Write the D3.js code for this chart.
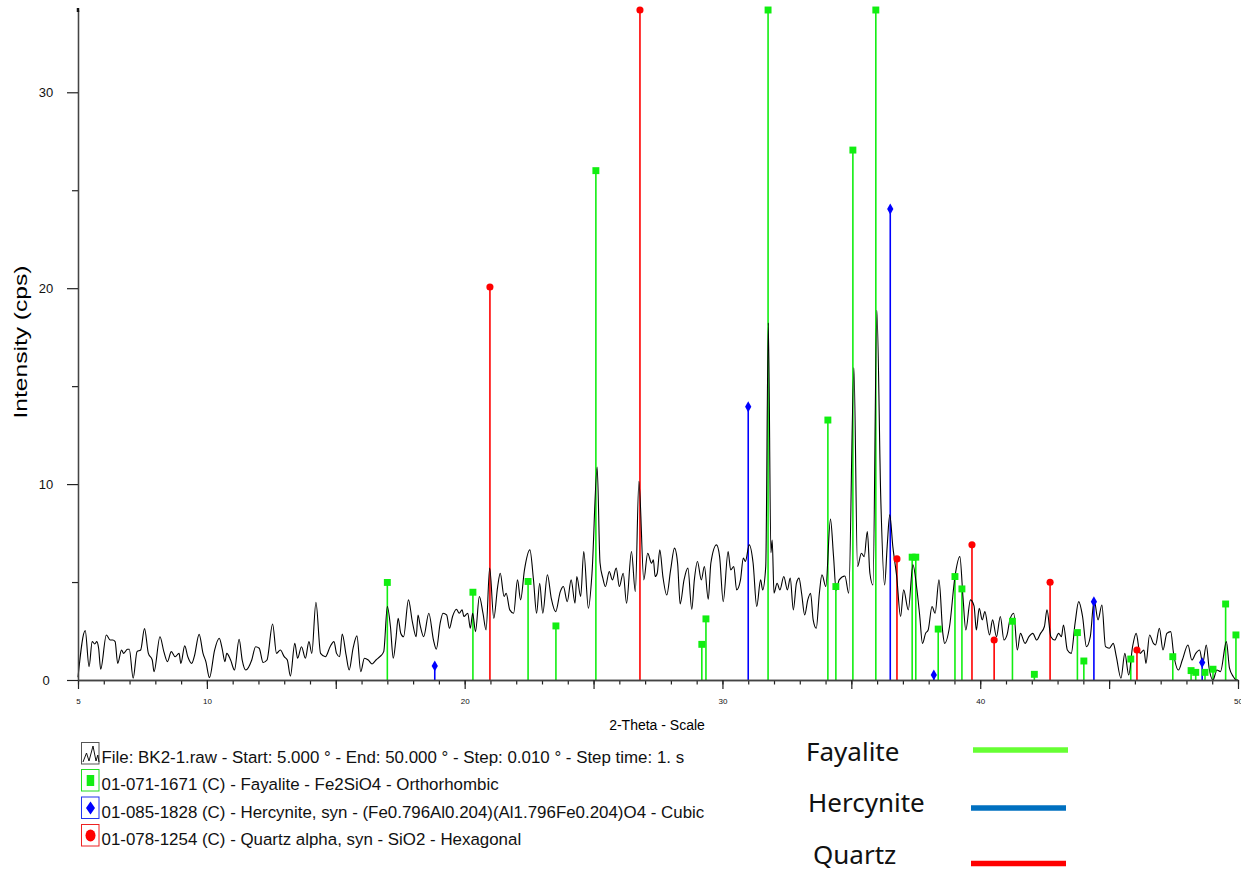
<!DOCTYPE html>
<html>
<head>
<meta charset="utf-8">
<script src="https://cdn.jsdelivr.net/npm/d3@7"></script>
<style>
  body { margin: 0; background: #fff; }
  svg { display: block; font-family: "Liberation Sans", Arial, sans-serif; }
</style>
</head>
<body>
<div id="chart"></div>
<script>
var patternX = [5.00,5.28,5.43,5.55,5.65,5.73,5.80,5.88,6.10,6.25,6.35,6.44,6.54,6.69,6.77,6.92,6.99,7.14,7.29,7.43,
  7.58,7.73,7.88,7.95,8.18,8.33,8.47,8.62,8.77,8.92,8.99,9.14,9.26,9.41,9.51,9.70,9.85,9.96,10.10,10.30,
  10.48,10.59,10.70,10.77,10.92,11.07,11.25,11.37,11.51,11.74,11.89,12.03,12.18,12.33,12.55,12.70,12.85,13.00,13.12,13.24,
  13.41,13.52,13.67,13.82,13.96,14.07,14.23,14.41,14.60,14.78,14.93,15.03,15.15,15.25,15.40,15.52,15.67,15.82,15.97,16.11,
  16.26,16.41,16.56,16.71,16.86,17.00,17.12,17.23,17.33,17.42,17.52,17.63,17.82,17.97,18.12,18.19,18.27,18.41,18.61,18.79,
  18.90,19.05,19.16,19.30,19.41,19.53,19.68,19.79,19.90,19.97,20.12,20.22,20.31,20.42,20.57,20.71,20.83,20.97,21.13,21.28,
  21.38,21.53,21.61,21.75,21.90,22.05,22.17,22.32,22.53,22.67,22.79,22.91,23.03,23.21,23.36,23.53,23.71,23.83,23.98,24.13,
  24.28,24.35,24.50,24.62,24.80,24.94,25.14,25.25,25.36,25.46,25.61,25.73,25.88,26.00,26.15,26.28,26.47,26.62,26.76,26.95,
  27.10,27.25,27.32,27.39,27.47,27.57,27.69,27.84,27.99,28.14,28.26,28.36,28.51,28.66,28.81,28.91,29.03,29.18,29.30,29.45,
  29.55,29.77,29.89,30.03,30.22,30.32,30.44,30.55,30.70,30.81,30.89,31.04,31.19,31.33,31.48,31.56,31.68,31.78,31.88,31.93,
  32.00,32.12,32.23,32.38,32.52,32.63,32.75,32.87,32.97,33.07,33.19,33.31,33.42,33.52,33.64,33.76,33.86,34.01,34.19,34.31,
  34.41,34.53,34.75,34.90,35.10,35.24,35.39,35.50,35.62,35.72,35.84,35.99,36.14,36.29,36.39,36.49,36.61,36.76,36.91,37.03,
  37.21,37.39,37.53,37.65,37.76,37.88,37.98,38.13,38.25,38.40,38.55,38.62,38.81,39.02,39.21,39.33,39.44,39.62,39.76,39.85,
  39.96,40.08,40.18,40.36,40.48,40.63,40.78,40.92,41.04,41.15,41.30,41.44,41.56,41.74,41.89,42.04,42.19,42.34,42.49,42.59,
  42.74,42.89,43.04,43.15,43.23,43.38,43.53,43.68,43.82,43.97,44.12,44.27,44.42,44.57,44.72,44.86,45.01,45.16,45.28,45.46,
  45.61,45.76,45.91,46.05,46.20,46.35,46.43,46.57,46.72,46.80,46.95,47.09,47.24,47.39,47.50,47.69,47.84,48.06,48.21,48.36,
  48.51,48.63,48.77,48.88,49.03,49.18,49.32,49.55,49.67,49.82,49.92,50.00];
var patternY = [0.14,2.52,0.68,1.96,1.84,1.96,1.62,0.55,2.30,2.04,2.04,1.96,0.85,1.53,1.36,1.57,1.57,0.09,1.45,1.53,
  2.62,1.36,1.02,0.43,2.21,1.45,0.94,1.45,1.19,1.36,0.85,1.74,1.19,0.85,1.19,2.33,1.36,0.94,0.12,1.53,
  2.13,1.62,0.94,1.36,1.02,0.51,2.08,1.02,0.51,1.02,1.70,1.62,0.89,1.02,2.86,1.36,1.53,1.19,1.02,0.20,
  1.87,1.11,1.70,1.11,1.96,1.36,3.97,1.36,1.19,1.70,1.96,1.36,1.19,2.35,1.28,0.51,1.62,2.25,0.43,1.11,
  1.02,0.82,1.02,1.19,1.45,3.75,2.73,1.11,2.04,3.15,2.39,2.21,4.09,2.98,2.21,3.32,2.81,2.21,3.41,2.04,
  1.57,2.90,3.41,3.32,2.64,3.24,3.61,3.41,3.58,3.24,3.41,2.64,3.41,2.47,4.26,3.41,2.56,5.71,3.15,4.77,
  5.45,4.26,4.43,3.58,3.41,5.11,4.09,5.62,6.64,5.11,3.41,4.94,3.41,5.37,4.17,3.49,4.51,4.77,4.00,5.11,
  3.92,5.28,4.26,6.56,3.66,5.45,10.87,6.00,5.20,4.77,5.54,5.11,5.71,4.77,5.45,3.92,6.56,4.51,10.14,5.11,
  6.47,5.96,6.13,5.28,5.45,6.64,5.28,4.34,5.62,6.73,5.96,3.88,5.11,5.71,3.61,5.11,6.05,5.11,5.79,4.12,
  5.96,6.90,6.30,4.00,6.56,5.62,5.79,4.60,5.11,6.22,6.05,6.90,5.96,3.75,5.11,4.60,5.80,18.23,6.50,7.15,
  4.43,4.94,4.60,5.28,4.60,5.20,3.58,4.94,5.20,4.43,3.32,4.09,4.43,3.07,2.64,4.43,5.37,4.77,8.21,6.30,
  4.60,5.11,5.31,4.43,15.93,5.79,6.47,6.30,7.58,5.45,4.85,18.87,9.37,4.85,6.81,8.43,6.81,5.28,3.24,4.60,
  3.58,5.88,4.77,3.32,1.87,2.38,2.55,3.75,3.41,5.11,2.38,1.87,2.73,5.28,6.30,4.26,2.55,4.09,3.78,2.55,
  3.66,3.07,3.49,2.30,3.07,2.21,3.24,2.04,2.30,3.07,3.41,1.53,2.38,1.87,2.21,2.38,2.04,2.38,2.73,3.58,
  2.21,2.04,2.38,2.21,2.81,1.53,1.36,2.90,4.00,3.24,1.70,2.21,4.09,3.07,3.83,1.70,1.62,1.87,1.19,0.09,
  1.36,0.26,1.70,2.38,1.36,1.53,0.85,2.30,1.87,1.79,2.64,1.53,2.38,2.47,1.36,0.51,1.02,1.79,1.02,1.36,
  1.53,0.85,1.79,0.60,0.00,0.51,0.43,1.96,0.60,0.17,0.00,0.00];

// REFERENCE PATTERNS (stick positions and heights; the tallest run off the top)
var fayaliteX = [17.00,20.32,22.46,23.54,25.09,29.20,29.36,31.77,34.09,34.40,35.06,35.95,37.36,37.50,38.37,
  39.02,39.29,41.25,42.10,43.77,44.02,45.84,47.47,48.18,48.36,48.72,49.03,49.52,49.92];
var fayaliteY = [4.98,4.48,5.03,2.76,26.0,1.82,3.12,100,13.27,4.77,27.05,83,6.27,6.27,2.60,
  5.28,4.65,3.00,0.29,2.42,0.97,1.07,1.19,0.48,0.39,0.39,0.55,3.88,2.30];
var hercyniteX = [18.84,31.00,36.51,38.20,44.41,48.61];
var hercyniteY = [0.72,13.95,24.04,0.26,4.00,0.89];
var quartzX = [20.98,26.80,36.77,39.68,40.54,42.71,46.08];
var quartzY = [20.06,100,6.18,6.90,2.04,4.99,1.53];

var xTickLabels = [5, 10, 20, 30, 40, 50];
var yTickLabels = [0, 10, 20, 30];

var legendTexts = [
  "File: BK2-1.raw - Start: 5.000 \u00b0 - End: 50.000 \u00b0 - Step: 0.010 \u00b0 - Step time: 1. s",
  "01-071-1671 (C) - Fayalite - Fe2SiO4 - Orthorhombic",
  "01-085-1828 (C) - Hercynite, syn - (Fe0.796Al0.204)(Al1.796Fe0.204)O4 - Cubic",
  "01-078-1254 (C) - Quartz alpha, syn - SiO2 - Hexagonal"];
var phaseNames = ["Fayalite", "Hercynite", "Quartz"];

var width = 1241, height = 873;
var plotLeft = 78, plotRight = 1238, plotTop = 10, plotBottom = 680;
var yMax = 34.2;

var svg = d3.select("#chart").append("svg")
  .attr("width", width)
  .attr("height", height);

var x = d3.scaleLinear().domain([5, 50]).range([plotLeft, plotRight]);
var y = d3.scaleLinear().domain([0, yMax]).range([plotBottom, plotTop]);

// layers, bottom to top
var stickLayer = svg.append("g");
var lineLayer = svg.append("g");
var markerLayer = svg.append("g");
var axisLayer = svg.append("g");

// X AXIS (minor ticks every degree, longer every 5)
axisLayer.append("g")
  .attr("transform", "translate(0," + plotBottom + ")")
  .call(d3.axisBottom(x).tickValues(d3.range(5, 51, 1)).tickSize(4.5).tickSizeOuter(0).tickFormat(""));
var xMajor = axisLayer.append("g")
  .attr("transform", "translate(0," + plotBottom + ")")
  .call(d3.axisBottom(x).tickValues(d3.range(5, 51, 5)).tickSize(9).tickSizeOuter(0)
    .tickFormat(function(d){ return xTickLabels.indexOf(d) >= 0 ? d : ""; }));
xMajor.selectAll("text")
  .attr("y", 18)
  .attr("font-size", "8px")
  .attr("fill", "#111");

// Y AXIS
axisLayer.append("g")
  .attr("transform", "translate(" + plotLeft + ",0)")
  .call(d3.axisLeft(y).tickValues([5, 15, 25]).tickSize(6).tickSizeOuter(0).tickFormat(""));
var yMajor = axisLayer.append("g")
  .attr("transform", "translate(" + plotLeft + ",0)")
  .call(d3.axisLeft(y).tickValues(yTickLabels).tickSize(11).tickSizeOuter(0));
yMajor.selectAll("text")
  .attr("x", -32)
  .attr("text-anchor", "middle")
  .attr("font-size", "13px")
  .attr("fill", "#111");

axisLayer.selectAll(".domain").attr("stroke", "#444").attr("stroke-width", 1.3);
axisLayer.selectAll(".tick line").attr("stroke", "#222").attr("stroke-width", 1.2);

// little end mark on top of the y axis
axisLayer.append("line")
  .attr("x1", plotLeft).attr("x2", plotLeft)
  .attr("y1", plotTop - 2).attr("y2", plotTop + 2)
  .attr("stroke", "#111").attr("stroke-width", 2.5);

// AXIS TITLES
svg.append("text")
  .text("2-Theta - Scale")
  .attr("x", 657)
  .attr("y", 730)
  .attr("text-anchor", "middle")
  .attr("font-size", "14px");

svg.append("text")
  .text("Intensity (cps)")
  .attr("transform", "translate(27,342) rotate(-90)")
  .attr("text-anchor", "middle")
  .attr("font-size", "19px")
  .attr("textLength", 153)
  .attr("lengthAdjust", "spacingAndGlyphs");

// STICKS
var phases = [
  {xs: fayaliteX, ys: fayaliteY, color: "#11ee11", marker: "square"},
  {xs: hercyniteX, ys: hercyniteY, color: "#0000ff", marker: "diamond"},
  {xs: quartzX, ys: quartzY, color: "#ff0000", marker: "circle"}
];

phases.forEach(function(p){
  var sticks = p.xs.map(function(v, i){ return [v, Math.min(p.ys[i], yMax)]; });

  stickLayer.selectAll(null)
    .data(sticks).enter()
    .append("line")
    .attr("x1", function(d){ return x(d[0]); })
    .attr("x2", function(d){ return x(d[0]); })
    .attr("y1", y(0))
    .attr("y2", function(d){ return y(d[1]); })
    .attr("stroke", p.color)
    .attr("stroke-width", 1.6);

  var sym = p.marker === "square" ? d3.symbolSquare
          : p.marker === "diamond" ? d3.symbolDiamond : d3.symbolCircle;
  var size = p.marker === "square" ? 48 : p.marker === "diamond" ? 34 : 40;

  markerLayer.selectAll(null)
    .data(sticks).enter()
    .append("path")
    .attr("d", d3.symbol().type(sym).size(size))
    .attr("transform", function(d){ return "translate(" + x(d[0]) + "," + y(d[1]) + ")"; })
    .attr("fill", p.color);
});

// PATTERN LINE
var pattern = patternX.map(function(v, i){ return [v, patternY[i]]; });
var line = d3.line()
  .x(function(d){ return x(d[0]); })
  .y(function(d){ return y(d[1]); })
  .curve(d3.curveMonotoneX);

lineLayer.append("path")
  .datum(pattern)
  .attr("d", line)
  .attr("fill", "none")
  .attr("stroke", "#000")
  .attr("stroke-width", 1.1);

// FILE / PDF LEGEND
var legend = svg.append("g");
var rowBase = [763, 790, 817.5, 845];
var iconColors = ["#555", "#22dd22", "#2233ee", "#ee2222"];
var iconFills = ["none", "#11ee11", "#0000ff", "#ff0000"];

legendTexts.forEach(function(t, i){
  var b = rowBase[i];
  legend.append("rect")
    .attr("x", 81.5).attr("y", b - 20.5)
    .attr("width", 17.5).attr("height", 21.5)
    .attr("fill", "#fff")
    .attr("stroke", iconColors[i])
    .attr("stroke-width", 1);

  var cx = 90.5, cy = b - 9.5;
  if (i === 0) {
    legend.append("path")
      .attr("d", "M83," + (b - 1) + " L86.5," + (b - 10) + " L89," + (b - 2) + " L93," + (b - 17)
        + " L96," + (b - 2) + " L97.8," + (b - 8) + " L99," + (b - 1))
      .attr("fill", "none")
      .attr("stroke", "#111")
      .attr("stroke-width", 1);
  } else if (i === 1) {
    legend.append("rect")
      .attr("x", cx - 3.8).attr("y", cy - 5.5)
      .attr("width", 7.5).attr("height", 11)
      .attr("fill", iconFills[i]);
  } else if (i === 2) {
    legend.append("path")
      .attr("d", "M" + cx + "," + (cy - 6.5) + " L" + (cx + 4.5) + "," + cy + " L" + cx + "," + (cy + 6.5)
        + " L" + (cx - 4.5) + "," + cy + " Z")
      .attr("fill", iconFills[i]);
  } else {
    legend.append("ellipse")
      .attr("cx", cx).attr("cy", cy)
      .attr("rx", 5).attr("ry", 6)
      .attr("fill", iconFills[i]);
  }

  legend.append("text")
    .text(t)
    .attr("x", 101.5)
    .attr("y", b)
    .attr("font-size", "16.9px")
    .attr("fill", "#111");
});

// PHASE KEY (right)
var keyColors = ["#66ff33", "#0070c0", "#ff0000"];
var keyText = [[806, 761], [808, 812], [813, 864]];
var keyLine = [[973, 1068, 750], [971, 1066, 808], [971, 1066, 863.5]];

phaseNames.forEach(function(n, i){
  svg.append("text")
    .text(n)
    .attr("x", keyText[i][0])
    .attr("y", keyText[i][1])
    .attr("font-family", "'Noto Sans', 'DejaVu Sans', sans-serif")
    .attr("font-size", "26px")
    .attr("fill", "#111");
  svg.append("line")
    .attr("x1", keyLine[i][0]).attr("x2", keyLine[i][1])
    .attr("y1", keyLine[i][2]).attr("y2", keyLine[i][2])
    .attr("stroke", keyColors[i])
    .attr("stroke-width", 5.5);
});
</script>
</body>
</html>
